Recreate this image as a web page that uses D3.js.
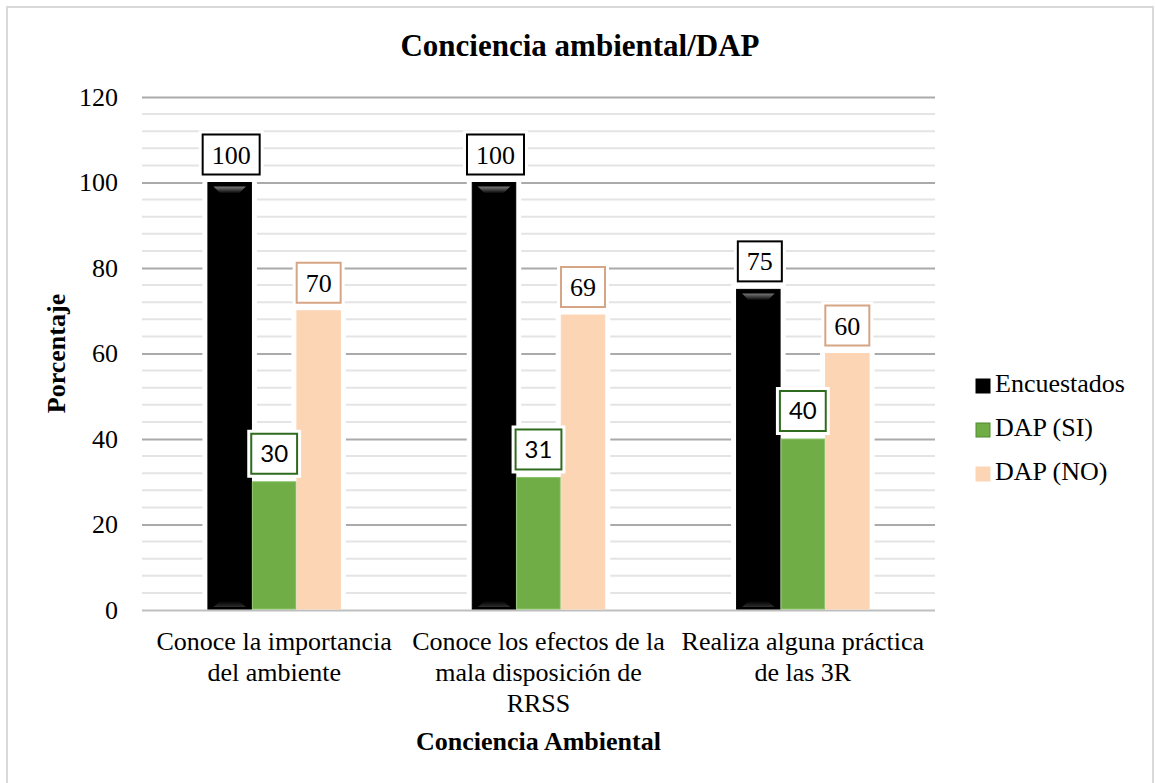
<!DOCTYPE html>
<html>
<head>
<meta charset="utf-8">
<script src="https://cdn.jsdelivr.net/npm/d3@7"></script>
<style>
  body { margin: 0; background: #fff; }
  text { font-family: "Liberation Serif", "Times New Roman", serif; fill: #000; }
</style>
</head>
<body>
<div id="chart1"></div>
<script>
// DATA
const categories = ["Conoce la importancia del ambiente", "Conoce los efectos de la mala disposición de RRSS", "Realiza alguna práctica de las 3R"];
const categoryLines = [
  ["Conoce la importancia", "del ambiente"],
  ["Conoce los efectos de la", "mala disposición de", "RRSS"],
  ["Realiza alguna práctica", "de las 3R"]
];
const seriesNames = ["Encuestados", "DAP (SI)", "DAP (NO)"];
const encuestados = [100, 100, 75];
const dapSi = [30, 31, 40];
const dapNo = [70, 69, 60];
const yTicks = [0, 20, 40, 60, 80, 100, 120];

const seriesValues = [encuestados, dapSi, dapNo];
const fills = ["#000000", "#70ad47", "#fcd5b5"];
const strokes = ["#000000", "#8cc46a", "#fcd5b5"];
const labelBorders = ["#000000", "#2f6b1f", "#d5a585"];
const labelFonts = ['"Liberation Serif", serif', 'Lato, "Open Sans", sans-serif', '"Liberation Serif", serif'];
const labelSizes = [26, 24, 26];

function drawChart() {
  const W = 1155, H = 783;
  const margin = {top: 97, right: 220, bottom: 173, left: 142};

  const svg = d3.select("#chart1")
    .append("svg")
      .attr("width", W)
      .attr("height", H);

  // gradients for the black bars
  const defs = svg.append("defs");
  const sheen = defs.append("linearGradient")
    .attr("id", "sheen").attr("x1", 0).attr("y1", 0).attr("x2", 0).attr("y2", 1);
  sheen.append("stop").attr("offset", "0%").attr("stop-color", "#7a7a7a");
  sheen.append("stop").attr("offset", "100%").attr("stop-color", "#000");
  const sheenBottom = defs.append("linearGradient")
    .attr("id", "sheenBottom").attr("x1", 0).attr("y1", 0).attr("x2", 0).attr("y2", 1);
  sheenBottom.append("stop").attr("offset", "0%").attr("stop-color", "#000");
  sheenBottom.append("stop").attr("offset", "100%").attr("stop-color", "#2e2e2e");

  // chart border
  svg.append("rect")
    .attr("x", 7).attr("y", 7)
    .attr("width", 1146).attr("height", 790)
    .attr("fill", "none")
    .attr("stroke", "#d9d9d9")
    .attr("stroke-width", 2);

  // SCALE AND AXIS
  const x0 = d3.scaleBand()
    .domain(categories)
    .range([margin.left, W - margin.right]);

  const groupWidth = 133.5;
  const x1 = d3.scaleBand()
    .domain(seriesNames)
    .range([0, groupWidth]);

  const y = d3.scaleLinear()
    .domain([0, 120])
    .range([H - margin.bottom, margin.top]);

  // minor gridlines
  const minor = d3.range(0, 121, 4).filter(v => v % 20 !== 0);
  svg.append("g")
    .selectAll("line")
    .data(minor)
    .enter()
    .append("line")
      .attr("x1", margin.left)
      .attr("x2", W - margin.right)
      .attr("y1", d => y(d))
      .attr("y2", d => y(d))
      .attr("stroke", "#e4e4e4")
      .attr("stroke-width", 2);

  // major gridlines + y tick labels
  const yAxis = d3.axisLeft(y)
    .tickValues(yTicks)
    .tickSize(-(W - margin.right - margin.left))
    .tickPadding(24);

  const gy = svg.append("g")
    .attr("transform", `translate(${margin.left},0)`)
    .call(yAxis);
  gy.select(".domain").remove();
  gy.selectAll(".tick line")
    .attr("stroke", d => d === 0 ? "#bfbfbf" : "#aaaaaa")
    .attr("stroke-width", 2);
  gy.selectAll(".tick text")
    .attr("font-family", '"Liberation Serif", serif')
    .style("font-size", "26px")
    .attr("fill", "#000");

  // DRAW BARS
  const groups = svg.selectAll(".grp")
    .data(categories)
    .enter()
    .append("g")
      .attr("class", "grp")
      .attr("transform", d => `translate(${x0(d) + (x0.bandwidth() - groupWidth) / 2},0)`);

  const barData = (c, ci) => seriesNames.map((s, si) => ({s, si, v: seriesValues[si][ci]}));

  // white glow behind bars
  groups.selectAll(".glow")
    .data((c, ci) => barData(c, ci))
    .enter()
    .append("rect")
      .attr("x", d => x1(d.s) - 5)
      .attr("y", d => y(d.v) - 5)
      .attr("width", x1.bandwidth() + 10)
      .attr("height", d => y(0) - y(d.v) + 4)
      .attr("fill", "#fff");

  groups.selectAll(".bar")
    .data((c, ci) => barData(c, ci))
    .enter()
    .append("rect")
      .attr("class", "bar")
      .attr("x", d => x1(d.s) + 0.5)
      .attr("y", d => y(d.v))
      .attr("width", x1.bandwidth() - 1)
      .attr("height", d => y(0) - y(d.v) - 1)
      .attr("fill", d => fills[d.si])
      .attr("stroke", d => strokes[d.si])
      .attr("stroke-width", 1);

  // sheen on the black bars
  const blacks = groups.selectAll(".sheen")
    .data((c, ci) => barData(c, ci).filter(d => d.si === 0))
    .enter();
  blacks.append("path")
    .attr("d", d => {
      const bx = x1(d.s), bw = x1.bandwidth(), top = y(d.v);
      return `M${bx + 6},${top + 4} L${bx + bw - 6},${top + 4} L${bx + bw - 13},${top + 11} L${bx + 13},${top + 11} Z`;
    })
    .attr("fill", "url(#sheen)");
  blacks.append("path")
    .attr("d", d => {
      const bx = x1(d.s), bw = x1.bandwidth(), bot = y(0);
      return `M${bx + 13},${bot - 9} L${bx + bw - 13},${bot - 9} L${bx + bw - 6},${bot - 3} L${bx + 6},${bot - 3} Z`;
    })
    .attr("fill", "url(#sheenBottom)");

  // DATA LABELS
  const labels = groups.selectAll(".lbl")
    .data((c, ci) => barData(c, ci))
    .enter()
    .append("g")
      .attr("class", "lbl");

  labels.each(function(d) {
    const g = d3.select(this);
    const cx = x1(d.s) + x1.bandwidth() / 2 + (d.si === 0 ? 1.5 : 0);
    const boxH = 40;
    const boxBottom = y(d.v) - 8;
    const glow = g.append("rect").attr("fill", "#fff");
    const box = g.append("rect")
      .attr("fill", "#fff")
      .attr("stroke", labelBorders[d.si])
      .attr("stroke-width", 2);
    const t = g.append("text")
      .attr("x", cx)
      .attr("y", boxBottom - boxH / 2)
      .attr("dy", "0.35em")
      .attr("text-anchor", "middle")
      .style("font-family", labelFonts[d.si])
      .style("font-size", labelSizes[d.si] + "px")
      .text(d.v);
    const tw = t.node().getComputedTextLength();
    const bw = Math.max(tw + 18, 44);
    box.attr("x", cx - bw / 2).attr("y", boxBottom - boxH)
      .attr("width", bw).attr("height", boxH);
    glow.attr("x", cx - bw / 2 - 4).attr("y", boxBottom - boxH - 4)
      .attr("width", bw + 8).attr("height", boxH + 8);
  });

  // CATEGORY LABELS
  const cat = svg.append("g")
    .selectAll("text")
    .data(categories)
    .enter()
    .append("text")
      .attr("x", d => x0(d) + x0.bandwidth() / 2)
      .attr("y", 650)
      .attr("text-anchor", "middle")
      .style("font-size", "26px");
  cat.selectAll("tspan")
    .data((d, i) => categoryLines[i])
    .enter()
    .append("tspan")
      .attr("x", function() { return d3.select(this.parentNode).attr("x"); })
      .attr("dy", (d, i) => i === 0 ? 0 : 31)
      .text(d => d);

  // AXIS TITLES
  svg.append("text")
    .attr("x", (margin.left + W - margin.right) / 2)
    .attr("y", 750)
    .attr("text-anchor", "middle")
    .style("font-size", "26px")
    .style("font-weight", "bold")
    .text("Conciencia Ambiental");

  svg.append("text")
    .attr("transform", `translate(65,${(y(0) + y(120)) / 2}) rotate(-90)`)
    .attr("text-anchor", "middle")
    .style("font-size", "26px")
    .style("font-weight", "bold")
    .text("Porcentaje");

  // TITLE
  svg.append("text")
    .attr("x", 580)
    .attr("y", 56)
    .attr("text-anchor", "middle")
    .style("font-size", "31px")
    .style("font-weight", "bold")
    .text("Conciencia ambiental/DAP");

  // LEGEND
  const legend = svg.selectAll("g.legend")
    .data(seriesNames)
    .enter()
    .append("g")
      .attr("class", "legend");

  legend.append("rect")
    .attr("x", 976)
    .attr("y", (d, i) => 379 + i * 44)
    .attr("width", 14)
    .attr("height", 14)
    .attr("fill", (d, i) => fills[i])
    .attr("stroke", (d, i) => i === 1 ? "#4e8a2e" : fills[i])
    .attr("stroke-width", 1);

  legend.append("text")
    .attr("x", 995)
    .attr("y", (d, i) => 392 + i * 44)
    .style("font-size", "26px")
    .text(d => d);
}

drawChart();
</script>
</body>
</html>
